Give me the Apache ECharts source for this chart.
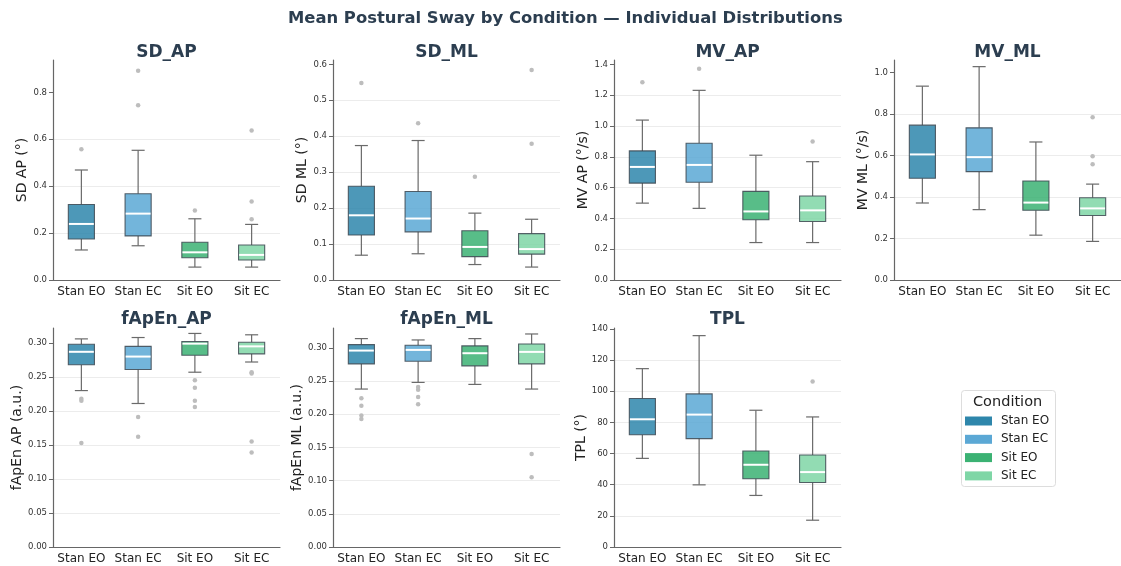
<!DOCTYPE html>
<html>
<head>
<meta charset="utf-8">
<script src="https://cdn.jsdelivr.net/npm/echarts@6/dist/echarts.min.js"></script>
<style>
  html, body { margin: 0; padding: 0; background: #ffffff; }
  #chart { width: 1121px; height: 566px; }
</style>
</head>
<body>
<div id="chart"></div>
<script>
// Conditions and their colours
const categories = ['Stan EO', 'Stan EC', 'Sit EO', 'Sit EC'];
const conditionColors = ['#2E86AB', '#5BA8D5', '#3BB273', '#7FD6A6'];

// Box statistics per condition: [lower whisker, Q1, median, Q3, upper whisker]
const sdAP = [
  [0.128, 0.175, 0.239, 0.322, 0.469],
  [0.146, 0.188, 0.283, 0.368, 0.553],
  [0.055, 0.095, 0.118, 0.161, 0.261],
  [0.055, 0.085, 0.107, 0.149, 0.237]
];
const sdAPOutliers = [[0, 0.557], [1, 0.892], [1, 0.745], [2, 0.296], [3, 0.637], [3, 0.335], [3, 0.259]];

const sdML = [
  [0.069, 0.125, 0.180, 0.261, 0.374],
  [0.073, 0.134, 0.171, 0.246, 0.388],
  [0.043, 0.065, 0.092, 0.137, 0.186],
  [0.036, 0.072, 0.086, 0.129, 0.169]
];
const sdMLOutliers = [[0, 0.548], [1, 0.436], [2, 0.287], [3, 0.584], [3, 0.379]];

const mvAP = [
  [0.499, 0.629, 0.734, 0.838, 1.038],
  [0.465, 0.634, 0.747, 0.888, 1.231],
  [0.243, 0.391, 0.445, 0.575, 0.810],
  [0.243, 0.380, 0.452, 0.545, 0.768]
];
const mvAPOutliers = [[0, 1.283], [1, 1.372], [3, 0.899]];

const mvML = [
  [0.371, 0.490, 0.605, 0.746, 0.934],
  [0.339, 0.522, 0.592, 0.733, 1.028],
  [0.216, 0.336, 0.373, 0.477, 0.665],
  [0.186, 0.311, 0.345, 0.396, 0.462]
];
const mvMLOutliers = [[3, 0.784], [3, 0.596], [3, 0.558]];

const fApEnAP = [
  [0.230, 0.268, 0.287, 0.298, 0.306],
  [0.211, 0.261, 0.280, 0.295, 0.308],
  [0.257, 0.282, 0.299, 0.302, 0.314],
  [0.272, 0.284, 0.295, 0.301, 0.312]
];
const fApEnAPOutliers = [[0, 0.218], [0, 0.215], [0, 0.153], [1, 0.191], [1, 0.162],
  [2, 0.245], [2, 0.234], [2, 0.215], [2, 0.206], [3, 0.257], [3, 0.255], [3, 0.155], [3, 0.139]];

const fApEnML = [
  [0.238, 0.276, 0.296, 0.305, 0.314],
  [0.248, 0.280, 0.297, 0.304, 0.312],
  [0.245, 0.273, 0.292, 0.303, 0.314],
  [0.238, 0.276, 0.294, 0.306, 0.321]
];
const fApEnMLOutliers = [[0, 0.224], [0, 0.213], [0, 0.198], [0, 0.193],
  [1, 0.241], [1, 0.237], [1, 0.226], [1, 0.215], [3, 0.140], [3, 0.105]];

const tpl = [
  [56.9, 72.1, 82.0, 95.3, 114.5],
  [39.9, 69.6, 85.0, 98.3, 135.7],
  [33.1, 43.8, 52.8, 61.6, 87.8],
  [17.2, 41.4, 48.1, 59.1, 83.5]
];
const tplOutliers = [[3, 106.3]];

// Panel definitions: title, y-axis name, stats, outliers, axis range and tick labels
const panels = [
  { title: 'SD_AP', yName: 'SD AP (°)', stats: sdAP, outliers: sdAPOutliers, max: 0.938, ticks: [0, 0.2, 0.4, 0.6, 0.8], dec: 1, gap: 22 },
  { title: 'SD_ML', yName: 'SD ML (°)', stats: sdML, outliers: sdMLOutliers, max: 0.612, ticks: [0, 0.1, 0.2, 0.3, 0.4, 0.5, 0.6], dec: 1, gap: 21 },
  { title: 'MV_AP', yName: 'MV AP (°/s)', stats: mvAP, outliers: mvAPOutliers, max: 1.428, ticks: [0, 0.2, 0.4, 0.6, 0.8, 1.0, 1.2, 1.4], dec: 1, gap: 21 },
  { title: 'MV_ML', yName: 'MV ML (°/s)', stats: mvML, outliers: mvMLOutliers, max: 1.06, ticks: [0, 0.2, 0.4, 0.6, 0.8, 1.0], dec: 1, gap: 21 },
  { title: 'fApEn_AP', yName: 'fApEn AP (a.u.)', stats: fApEnAP, outliers: fApEnAPOutliers, max: 0.322, ticks: [0, 0.05, 0.10, 0.15, 0.20, 0.25, 0.30], dec: 2, gap: 27.5 },
  { title: 'fApEn_ML', yName: 'fApEn ML (a.u.)', stats: fApEnML, outliers: fApEnMLOutliers, max: 0.330, ticks: [0, 0.05, 0.10, 0.15, 0.20, 0.25, 0.30], dec: 2, gap: 28 },
  { title: 'TPL', yName: 'TPL (°)', stats: tpl, outliers: tplOutliers, max: 140.6, ticks: [0, 20, 40, 60, 80, 100, 120, 140], dec: 0, gap: 24.5 }
];

const FONT = 'DejaVu Sans';
const lefts = [53, 333, 614, 894];
const tops = [60, 328];
const heights = [220, 219];
const gridWidth = 227;

const grids = [], xAxes = [], yAxes = [], series = [], titles = [];

titles.push({
  text: 'Mean Postural Sway by Condition — Individual Distributions',
  left: 288, top: 11, padding: 0,
  textStyle: { fontFamily: FONT, fontSize: 16.4, fontWeight: 'bold', color: '#2c3e50' }
});

function renderBox(params, api) {
  const ci = api.value(0);
  const x = api.coord([ci, 0])[0];
  const band = api.size([1, 0])[0];
  const bw = band * 0.46;
  const capW = bw / 2;
  const yLo = api.coord([ci, api.value(1)])[1];
  const yQ1 = api.coord([ci, api.value(2)])[1];
  const yMed = api.coord([ci, api.value(3)])[1];
  const yQ3 = api.coord([ci, api.value(4)])[1];
  const yHi = api.coord([ci, api.value(5)])[1];
  const whisker = { stroke: '#6a6a6a', lineWidth: 1.2 };
  return {
    type: 'group',
    children: [
      { type: 'line', shape: { x1: x, y1: yQ3, x2: x, y2: yHi }, style: whisker },
      { type: 'line', shape: { x1: x, y1: yQ1, x2: x, y2: yLo }, style: whisker },
      { type: 'line', shape: { x1: x - capW / 2, y1: yHi, x2: x + capW / 2, y2: yHi }, style: whisker },
      { type: 'line', shape: { x1: x - capW / 2, y1: yLo, x2: x + capW / 2, y2: yLo }, style: whisker },
      {
        type: 'rect',
        shape: { x: x - bw / 2, y: yQ3, width: bw, height: yQ1 - yQ3 },
        style: { fill: conditionColors[ci], opacity: 0.85, stroke: '#3c4650', lineWidth: 1.1 }
      },
      { type: 'line', shape: { x1: x - bw / 2 + 0.6, y1: yMed, x2: x + bw / 2 - 0.6, y2: yMed }, style: { stroke: '#ffffff', lineWidth: 2 } }
    ]
  };
}

panels.forEach((p, i) => {
  const row = i < 4 ? 0 : 1;
  const col = i % 4;
  grids.push({ left: lefts[col], top: tops[row], width: gridWidth, height: heights[row], containLabel: false });
  titles.push({
    text: p.title,
    left: lefts[col] + gridWidth / 2, textAlign: 'center',
    top: tops[row] - (row === 0 ? 16 : 17), padding: 0,
    textStyle: { fontFamily: FONT, fontSize: 17, fontWeight: 'bold', color: '#2c3e50' }
  });
  xAxes.push({
    type: 'category', gridIndex: i, data: categories, boundaryGap: true,
    axisLine: { lineStyle: { color: '#666', width: 1.2 } },
    axisTick: { alignWithLabel: true, length: 4, lineStyle: { color: '#666' } },
    axisLabel: { fontFamily: FONT, fontSize: 12, color: '#222', margin: 6, interval: 0 },
    splitLine: { show: false }
  });
  yAxes.push({
    type: 'value', gridIndex: i, min: 0, max: p.max,
    name: p.yName, nameLocation: 'middle', nameGap: p.gap, nameRotate: 90,
    nameTextStyle: { fontFamily: FONT, fontSize: 14, color: '#222' },
    axisLine: { show: true, lineStyle: { color: '#666', width: 1.2 } },
    axisTick: { show: true, length: 4, lineStyle: { color: '#666' }, customValues: p.ticks },
    axisLabel: {
      fontFamily: FONT, fontSize: 8.5, color: '#333', margin: 6,
      customValues: p.ticks,
      formatter: v => Number(v).toFixed(p.dec)
    },
    splitLine: { show: true, showMaxLine: false, showMinLine: false, lineStyle: { color: '#ececec', width: 1 } }
  });
  series.push({
    type: 'custom', xAxisIndex: i, yAxisIndex: i,
    renderItem: renderBox,
    encode: { x: 0, y: [1, 2, 3, 4, 5] },
    data: p.stats.map((s, ci) => [ci].concat(s)),
    z: 3
  });
  series.push({
    type: 'scatter', xAxisIndex: i, yAxisIndex: i,
    data: p.outliers,
    symbol: 'circle', symbolSize: 4.5,
    itemStyle: { color: '#bdbdbd', opacity: 1 },
    z: 4
  });
});

// Legend entries (empty series carry the condition names and colours)
categories.forEach((c, ci) => {
  series.push({
    type: 'scatter', name: c, xAxisIndex: 0, yAxisIndex: 0, data: [],
    itemStyle: { color: conditionColors[ci], opacity: 1 }
  });
});

const option = {
  backgroundColor: '#ffffff',
  animation: false,
  title: titles,
  grid: grids,
  xAxis: xAxes,
  yAxis: yAxes,
  series: series,
  legend: {
    data: categories,
    orient: 'vertical',
    left: 965, top: 414, padding: 0,
    icon: 'rect', itemWidth: 27, itemHeight: 9, itemGap: 4.3,
    selectedMode: false,
    itemStyle: { opacity: 1 },
    textStyle: { fontFamily: FONT, fontSize: 12, color: '#222', padding: [0, 0, 0, 4], height: 14, lineHeight: 14 }
  },
  graphic: [
    {
      type: 'rect', left: 961, top: 390,
      shape: { width: 94, height: 96, r: 3 },
      style: { fill: '#ffffff', stroke: '#dddddd', lineWidth: 1 },
      z: -1
    },
    {
      type: 'text', left: 973, top: 395,
      style: { text: 'Condition', fontFamily: FONT, fontSize: 14.5, fill: '#222' }
    }
  ]
};

const chart = echarts.init(document.getElementById('chart'), null, { renderer: 'canvas' });
chart.setOption(option);
</script>
</body>
</html>
